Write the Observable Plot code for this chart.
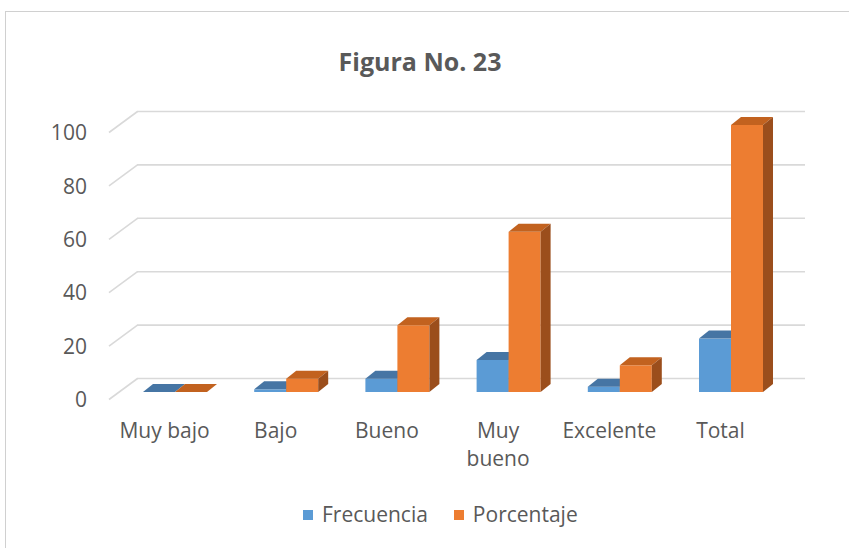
<!DOCTYPE html>
<html>
<head>
<meta charset="utf-8">
<script src="https://cdn.jsdelivr.net/npm/d3@7"></script>
<script src="https://cdn.jsdelivr.net/npm/@observablehq/plot@0.6"></script>
<style>
  html, body { margin: 0; padding: 0; background: #fff; }
  body { width: 849px; height: 548px; position: relative; overflow: hidden; font-family: "Open Sans", sans-serif; color: #595959; }
  #frame { position: absolute; left: 5px; top: 11px; width: 900px; height: 600px; border-left: 1px solid #d0d0d0; border-top: 1px solid #d0d0d0; }
  #title { position: absolute; left: 0; top: 49px; width: 840px; text-align: center; font-size: 25px; line-height: 25px; font-weight: 700; color: #595959; }
  #chart { position: absolute; left: 0; top: 85px; }
  #chart svg { overflow: visible; }
  #legend { position: absolute; left: 303px; top: 504px; display: flex; font-size: 21px; line-height: 21px; color: #595959; }
  .item { display: flex; align-items: center; margin-right: 26px; }
  .sw { width: 10px; height: 10px; margin-right: 9px; }
</style>
</head>
<body>
<div id="frame"></div>
<div id="title">Figura No. 23</div>
<div id="chart"></div>
<div id="legend"></div>
<script>
// ---- data ----
const categories = ["Muy bajo", "Bajo", "Bueno", "Muy bueno", "Excelente", "Total"];
const frecuencia = [0, 1, 5, 12, 2, 20];
const porcentaje = [0, 5, 25, 60, 10, 100];
const seriesNames = ["Frecuencia", "Porcentaje"];
const yTicks = [0, 20, 40, 60, 80, 100];

// ---- styling / geometry ----
const front = ["#5B9BD5", "#ED7D31"];
const top_ = ["#4675A4", "#C2621F"];
const side = ["#355F8A", "#9B4E1C"];
const UX = 111.2;   // px per category
const UY = 2.67;    // px per value unit
const barW = 32 / UX;
const dX = 10 / UX, dY = 8 / UY;           // bar depth
const wallL = (137 - 119.4) / UX, wallR = (805 - 119.4) / UX, wallFront = (108.5 - 119.4) / UX;

const series = [frecuencia, porcentaje];

const marks = [];
// back wall gridlines
marks.push(Plot.ruleY(yTicks, {y: d => d, x1: () => wallL, x2: () => wallR, dy: -14, stroke: "#d9d9d9", strokeWidth: 1.6}));
// side wall lines
marks.push(Plot.link(yTicks, {x1: () => wallFront, y1: d => d - 7 / UY, x2: () => wallL, y2: d => d + 14 / UY, stroke: "#d9d9d9", strokeWidth: 1.6}));

for (let i = 0; i < categories.length; i++) {
  for (let s = 0; s < 2; s++) {
    const v = series[s][i];
    const x0 = i + 0.5 + (s - 1) * barW, x1 = x0 + barW;
    const row = [{x0, x1, v}];
    marks.push(Plot.rect(row, {x1: "x0", x2: "x1", y1: () => 0, y2: "v", fill: front[s]}));
    const topPts = [
      {x: x0, y1: v, y2: v},
      {x: x0 + dX, y1: v, y2: v + dY},
      {x: x1, y1: v, y2: v + dY},
      {x: x1 + dX, y1: v + dY, y2: v + dY}
    ];
    marks.push(Plot.areaY(topPts, {x: "x", y1: "y1", y2: "y2", fill: top_[s], curve: "linear"}));
    const sidePts = [
      {x: x1, y1: 0, y2: v},
      {x: x1 + dX, y1: dY, y2: v + dY}
    ];
    marks.push(Plot.areaY(sidePts, {x: "x", y1: "y1", y2: "y2", fill: side[s], curve: "linear"}));
  }
}

// y tick labels (front plane)
marks.push(Plot.text(yTicks, {x: () => 0, y: d => d, text: d => String(d), dx: -33, dy: 8, textAnchor: "end", fill: "#595959", fontSize: 21}));
// category labels
marks.push(Plot.text(categories, {x: (d, i) => i + 0.5, y: () => 0, text: d => d, dx: -11, dy: 26, lineAnchor: "top", lineWidth: 4.6, lineHeight: 1.33, fill: "#595959", fontSize: 21}));

const chart = Plot.plot({
  width: 849,
  height: 395,
  marginLeft: 119.4,
  marginRight: 62.4,
  marginTop: 40,
  marginBottom: 88,
  x: {type: "linear", domain: [0, 6], axis: null},
  y: {type: "linear", domain: [0, 100], axis: null},
  style: {fontFamily: "Open Sans, sans-serif", fontSize: "21px", background: "transparent", color: "#595959"},
  marks
});
document.getElementById("chart").appendChild(chart);

const legend = document.getElementById("legend");
seriesNames.forEach((name, s) => {
  const it = document.createElement("div");
  it.className = "item";
  const sw = document.createElement("div");
  sw.className = "sw";
  sw.style.background = front[s];
  const t = document.createElement("span");
  t.textContent = name;
  it.appendChild(sw); it.appendChild(t);
  legend.appendChild(it);
});
</script>
</body>
</html>
